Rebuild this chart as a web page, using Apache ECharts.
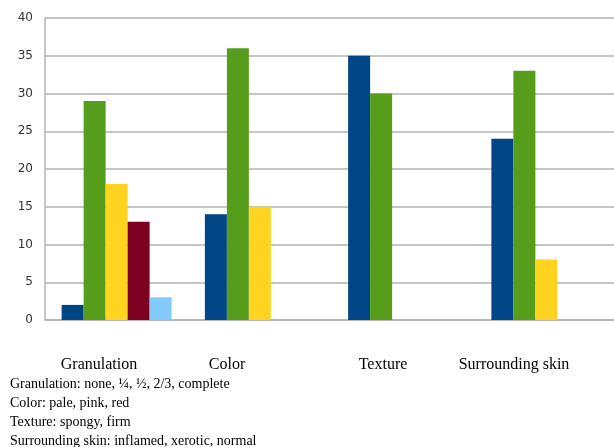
<!DOCTYPE html>
<html>
<head>
<meta charset="utf-8">
<script src="https://cdn.jsdelivr.net/npm/echarts@6/dist/echarts.min.js"></script>
<style>
  html, body { margin: 0; padding: 0; background: #ffffff; }
  #chart { width: 614px; height: 447px; }
</style>
</head>
<body>
<div id="chart"></div>
<script>
// Wound assessment counts per criterion
const categories = ['Granulation', 'Color', 'Texture', 'Surrounding skin'];
// Sub-grades shown in order within each criterion (null = no such grade)
const grade1 = [2, 14, 35, 24];
const grade2 = [29, 36, 30, 33];
const grade3 = [18, 15, null, 8];
const grade4 = [13, null, null, null];
const grade5 = [3, null, null, null];
const yTicks = [0, 5, 10, 15, 20, 25, 30, 35, 40];
const notes = [
  'Granulation: none, ¼, ½, 2/3, complete',
  'Color: pale, pink, red',
  'Texture: spongy, firm',
  'Surrounding skin: inflamed, xerotic, normal'
];

const palette = ['#004586', '#579d1c', '#ffd320', '#7e0021', '#83caff'];
const seriesData = [grade1, grade2, grade3, grade4, grade5];

const chart = echarts.init(document.getElementById('chart'), null, { renderer: 'canvas' });

// Category captions sit slightly left of each group's centre
const captionX = [99, 227, 383, 514];
const serifFont = '"Liberation Serif", "Times New Roman", serif';

const graphic = [];
categories.forEach((c, i) => {
  graphic.push({
    type: 'text', x: captionX[i], y: 365,
    style: { text: c, font: '16px ' + serifFont, fill: '#000', textAlign: 'center', textVerticalAlign: 'middle' }
  });
});
notes.forEach((t, i) => {
  graphic.push({
    type: 'text', x: 10, y: 384 + i * 19,
    style: { text: t, font: '14px ' + serifFont, fill: '#000', textAlign: 'left', textVerticalAlign: 'middle' }
  });
});

chart.setOption({
  animation: false,
  backgroundColor: '#ffffff',
  // plot area runs a little past the right edge of the canvas
  grid: { left: 45, top: 18, height: 302, width: 573, containLabel: false, outerBoundsMode: 'none' },
  xAxis: {
    type: 'category',
    data: categories,
    axisLine: { show: true, lineStyle: { color: '#b3b3b3', width: 1.5 } },
    axisTick: { show: false },
    axisLabel: { show: false },
    splitLine: { show: false }
  },
  yAxis: {
    type: 'value',
    min: yTicks[0],
    max: yTicks[yTicks.length - 1],
    interval: 5,
    axisLine: { show: true, lineStyle: { color: '#b3b3b3', width: 1.5 } },
    axisTick: { show: false },
    axisLabel: {
      margin: 12,
      color: '#333333',
      fontFamily: '"DejaVu Sans", Verdana, sans-serif',
      fontSize: 12
    },
    splitLine: { show: true, lineStyle: { color: '#b3b3b3', width: 1.5 } }
  },
  series: seriesData.map((d, i) => ({
    type: 'bar',
    data: d,
    barWidth: 22,
    barGap: '0%',
    itemStyle: { color: palette[i] }
  })),
  graphic: graphic
});
</script>
</body>
</html>
